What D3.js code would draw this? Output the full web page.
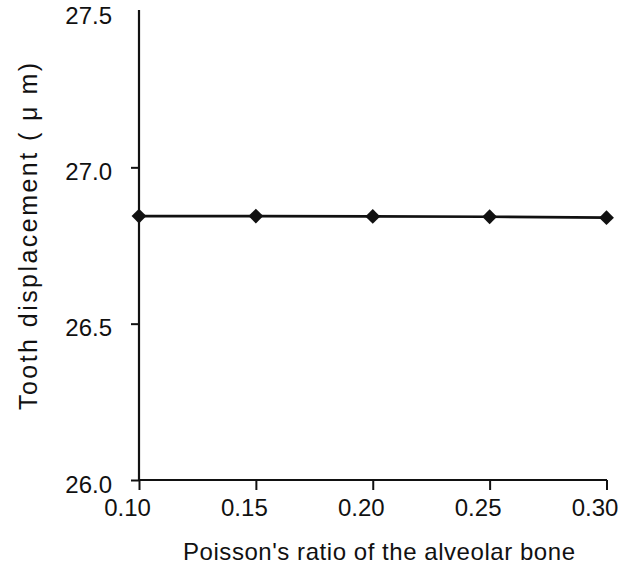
<!DOCTYPE html>
<html><head><meta charset="utf-8">
<script src="https://cdn.jsdelivr.net/npm/d3@7"></script>
<style>body{margin:0;background:#fff}svg{display:block}text{font-family:"Liberation Sans",Arial,sans-serif;fill:#111}</style>
</head><body>
<script>
const poissonRatios = [0.10, 0.15, 0.20, 0.25, 0.30];
const displacement = [26.844, 26.844, 26.843, 26.842, 26.839];
const xTicks = [0.10, 0.15, 0.20, 0.25, 0.30];
const yTicks = [26.0, 26.5, 27.0, 27.5];
const xTitle = "Poisson's ratio of the alveolar bone";
const yTitle = "Tooth displacement ( \u03BC m)";

const W = 637, H = 569;
const svg = d3.select("body").append("svg").attr("width", W).attr("height", H);
const x = d3.scaleLinear().domain([0.10, 0.30]).range([139, 606.5]);
const y = d3.scaleLinear().domain([26.0, 27.5]).range([480, 11]);

// y axis
const ya = svg.append("g").attr("transform", "translate(139,0)")
  .call(d3.axisLeft(y).tickValues(yTicks).tickFormat(d3.format(".1f")).tickSize(8).tickPadding(19).tickSizeOuter(0));
ya.select(".domain").attr("stroke", "#111").attr("stroke-width", 2.2).attr("d", "M0,10V481");
ya.selectAll(".tick line").attr("stroke", "#111").attr("stroke-width", 2);
ya.selectAll(".tick").filter(d => d === 27.5).select("line").remove();
ya.selectAll(".tick text").attr("font-size", 24).attr("fill", "#111").attr("dy", "0.5em");

// x axis
const xa = svg.append("g").attr("transform", "translate(0,480)")
  .call(d3.axisBottom(x).tickValues(xTicks).tickFormat(d3.format(".2f")).tickSize(10).tickPadding(9).tickSizeOuter(0));
xa.select(".domain").attr("stroke", "#111").attr("stroke-width", 2.2).attr("d", "M138,0H607");
xa.selectAll(".tick line").attr("stroke", "#111").attr("stroke-width", 2);
xa.selectAll(".tick text").attr("font-size", 24).attr("fill", "#111").attr("dx", -12);

// line
const data = poissonRatios.map((p, i) => ({p, v: displacement[i]}));
svg.append("path").datum(data)
  .attr("fill", "none").attr("stroke", "#111").attr("stroke-width", 2.7)
  .attr("d", d3.line().x(d => x(d.p)).y(d => y(d.v)));
svg.selectAll(".pt").data(data).enter().append("path")
  .attr("transform", d => `translate(${x(d.p)},${y(d.v)}) rotate(45)`)
  .attr("d", d3.symbol(d3.symbolSquare, 110))
  .attr("fill", "#111");

// titles
svg.append("text").attr("x", 183).attr("y", 560)
  .attr("font-size", 24).attr("textLength", 392).attr("lengthAdjust", "spacing").text(xTitle);
svg.append("text").attr("transform", "translate(37,410) rotate(-90)")
  .attr("font-size", 25).attr("textLength", 347).attr("lengthAdjust", "spacing").text(yTitle);
</script>
</body></html>
